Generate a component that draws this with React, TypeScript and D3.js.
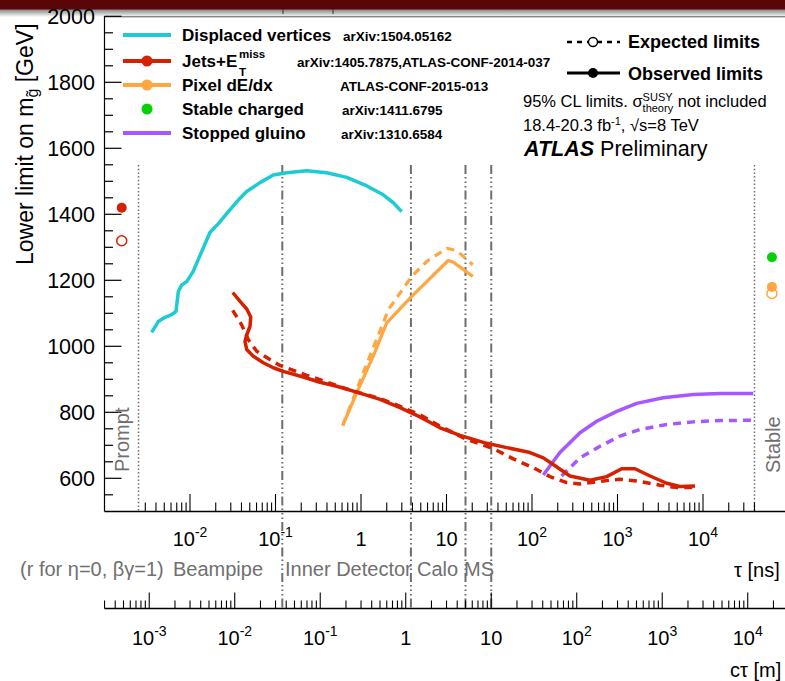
import React from "react";
import * as d3 from "d3";

const W = 785;
const H = 681;
const FONT = "'Liberation Sans', Arial, Helvetica, sans-serif";

// Displaced vertices, observed limit: lifetime tau [ns] and gluino mass [GeV]
const dvTau = [0.00356, 0.00426, 0.0051, 0.0061, 0.00686, 0.0073, 0.008, 0.00915, 0.0109, 0.0137, 0.0171, 0.0214, 0.0281, 0.0352, 0.046, 0.0659, 0.0942, 0.135, 0.232, 0.397, 0.681, 1.17, 1.82, 2.39, 2.99];
const dvMass = [1042, 1075, 1088, 1096, 1106, 1166, 1186, 1196, 1227, 1287, 1345, 1371, 1408, 1438, 1469, 1496, 1519, 1526, 1532, 1526, 1512, 1486, 1459, 1435, 1408];

// Jets + ETmiss
const jetsObsTau = [0.0316, 0.0385, 0.0461, 0.0513, 0.0503, 0.0461, 0.044, 0.0461, 0.055, 0.072, 0.0942, 0.123, 0.211, 0.331, 0.52, 0.891, 1.67, 2.86, 4.9, 8.4, 14.4, 29.5, 50.6, 94.8, 135.6, 177, 278, 477, 748, 1120, 1602, 2400, 3760, 5380, 8060];
const jetsObsMass = [1163, 1136, 1113, 1089, 1060, 1035, 1015, 990, 970, 950, 935, 924, 907, 891, 879, 861, 839, 814, 786, 753, 730, 706, 693, 678, 662, 642, 607, 594, 605, 629, 629, 607, 585, 575, 577];
const jetsExpTau = [0.0316, 0.0402, 0.0481, 0.0603, 0.0862, 0.113, 0.162, 0.232, 0.331, 0.52, 0.813, 1.67, 2.86, 4.9, 8.4, 17.2, 35.3, 60.4, 103.6, 162.5, 254.6, 364, 682, 1070, 1678, 3140, 4920, 7700];
const jetsExpMass = [1109, 1065, 1020, 985, 960, 942, 927, 912, 899, 881, 864, 842, 818, 793, 758, 718, 690, 659, 632, 605, 587, 583, 592, 597, 592, 579, 572, 572];

// Pixel dE/dx
const pixObsTau = [0.611, 0.891, 1.39, 2.0, 3.92, 10.5, 12.0, 20.3];
const pixObsMass = [760, 859, 970, 1071, 1151, 1260, 1255, 1212];
const pixExpTau = [0.611, 1.06, 1.82, 2.09, 2.86, 3.92, 5.87, 10.05, 13.2, 20.3];
const pixExpMass = [760, 919, 1071, 1111, 1161, 1212, 1257, 1297, 1290, 1247];

// Stopped gluino
const stopObsTau = [135.6, 212, 364, 571, 979, 1678, 3433, 7700, 15800, 38700];
const stopObsMass = [610, 678, 738, 773, 803, 827, 844, 854, 857, 857];
const stopExpTau = [222, 364, 624, 1070, 1833, 3760, 7700, 15800, 38700];
const stopExpMass = [607, 662, 697, 728, 748, 763, 771, 775, 776];

// Prompt (left) and stable (right) single-point limits
const promptTau = 1.59e-3;
const stableTau = 6.4e4;
const promptJetsObs = 1420;
const promptJetsExp = 1320;
const stableChargedObs = 1270;
const stablePixObs = 1180;
const stablePixExp = 1160;

// Axis ranges and ticks
const tauAxisMin = 2.5e-3;
const tauAxisMax = 4e4;
const tauLabelExps = [-2, -1, 0, 1, 2, 3, 4];
const ctLabelExps = [-3, -2, -1, 0, 1, 2, 3, 4];
const ctTickMin = 3e-4;
const massMajor = [600, 800, 1000, 1200, 1400, 1600, 1800, 2000];
const C_M_PER_NS = 0.2998;

// Detector boundaries in c*tau [m]
const boundariesCt = [0.036, 1.15, 5, 10];
const regionNames = ["(r for \u03B7=0, \u03B2\u03B3=1)", "Beampipe", "Inner Detector", "Calo", "MS"];
const regionX = [20, 173, 285, 417, 464];

const COL = {
  cyan: "#1ccbd3",
  red: "#d62000",
  orange: "#ffa640",
  green: "#06d006",
  purple: "#a657ff",
  grid: "#6e6e6e",
  label: "#707070",
};

const x = d3.scaleLog().domain([1e-2, 1e4]).range([190, 703]);
const y = d3.scaleLinear().domain([500, 2000]).range([511.3, 16.3]);
const xct = (ct: number) => x(ct / C_M_PER_NS);

const line = d3
  .line<[number, number]>()
  .x((d) => x(d[0]))
  .y((d) => y(d[1]))
  .curve(d3.curveLinear);

const zip = (a: number[], b: number[]) => a.map((v, i) => [v, b[i]] as [number, number]);

function logTicks(min: number, max: number) {
  const out: { v: number; major: boolean }[] = [];
  for (let e = -5; e <= 6; e++) {
    for (let k = 1; k <= 9; k++) {
      const v = k * Math.pow(10, e);
      if (v >= min * 0.999 && v <= max * 1.001) out.push({ v, major: k === 1 });
    }
  }
  return out;
}

function PowLabel({ px, py, e, size }: { px: number; py: number; e: number; size: number }) {
  if (e === 0)
    return (
      <text x={px} y={py} textAnchor="middle" fontSize={size}>
        1
      </text>
    );
  if (e === 1)
    return (
      <text x={px} y={py} textAnchor="middle" fontSize={size}>
        10
      </text>
    );
  return (
    <text x={px} y={py} textAnchor="middle" fontSize={size}>
      10
      <tspan dy={-size * 0.45} fontSize={size * 0.7}>
        {String(e)}
      </tspan>
    </text>
  );
}

export default function App() {
  const axisY = 511.5;
  const axis2Y = 608.5;
  const left = 104.5;
  const tauTicks = logTicks(tauAxisMin, tauAxisMax);
  const ctTicks = logTicks(ctTickMin, 1e5).filter((t) => xct(t.v) <= W);
  const massMinor = d3.range(550, 2001, 50);

  return (
    <svg
      width={W}
      height={H}
      viewBox={`0 0 ${W} ${H}`}
      style={{ position: "absolute", left: 0, top: 0, background: "#fff" }}
      fontFamily={FONT}
    >
      <defs>
        <linearGradient id="topfade" x1="0" y1="0" x2="0" y2="1">
          <stop offset="0" stopColor="#7d7d7d" />
          <stop offset="1" stopColor="#ffffff" />
        </linearGradient>
      </defs>
      <rect x={0} y={0} width={W} height={H} fill="#fff" />
      <rect x={0} y={9} width={W} height={8} fill="url(#topfade)" />
      <rect x={0} y={0} width={W} height={9.5} fill="#5a0609" />
      <line x1={283} x2={283} y1={9} y2={14} stroke="#333" strokeWidth={1} />
      <line x1={333} x2={333} y1={9} y2={14} stroke="#333" strokeWidth={1} />

      {/* frame */}
      <line x1={left} x2={W} y1={16.8} y2={16.8} stroke="#555" strokeWidth={1} />
      <line x1={left} x2={left} y1={16.3} y2={axisY} stroke="#000" strokeWidth={1.2} />

      {/* y axis ticks */}
      {massMinor.map((m) => {
        const major = m % 200 === 0;
        return <line key={"ym" + m} x1={left} x2={left + (major ? 17 : 8.5)} y1={y(m)} y2={y(m)} stroke="#000" strokeWidth={1.2} />;
      })}
      {massMajor.map((m) => (
        <text key={"yl" + m} x={95} y={y(m) + 7.7} textAnchor="end" fontSize={21.5}>
          {m}
        </text>
      ))}
      <text transform="translate(33,265) rotate(-90)" fontSize={23}>
        Lower limit on m
        <tspan dy={5} fontSize={16}>
          {"g\u0303"}
        </tspan>
        <tspan dy={-5}> [GeV]</tspan>
      </text>

      {/* prompt / stable bounds */}
      {[tauAxisMin, tauAxisMax].map((t) => (
        <line key={"pb" + t} x1={x(t)} x2={x(t)} y1={165} y2={axisY} stroke={COL.grid} strokeWidth={1.5} strokeDasharray="1.5,2.2" />
      ))}
      {/* detector boundaries */}
      {boundariesCt.map((c) => (
        <line
          key={"bd" + c}
          x1={xct(c)}
          x2={xct(c)}
          y1={165}
          y2={axis2Y}
          stroke={COL.grid}
          strokeWidth={2}
          strokeDasharray="9,3,1.5,3,1.5,3,1.5,3"
        />
      ))}
      <text transform={`translate(129,472) rotate(-90)`} fontSize={20} fill={COL.label}>
        Prompt
      </text>
      <text transform={`translate(780,473) rotate(-90)`} fontSize={20} fill={COL.label}>
        Stable
      </text>

      {/* main tau axis */}
      <line x1={left} x2={W} y1={axisY} y2={axisY} stroke="#000" strokeWidth={1.3} />
      {tauTicks.map((t) => (
        <line key={"tt" + t.v} x1={x(t.v)} x2={x(t.v)} y1={axisY} y2={axisY - (t.major ? 17.5 : 9)} stroke="#000" strokeWidth={1.1} />
      ))}
      {tauLabelExps.map((e) => (
        <PowLabel key={"tl" + e} px={x(Math.pow(10, e))} py={546} e={e} size={20} />
      ))}
      <text x={734} y={577} fontSize={20}>
        {"\u03C4 [ns]"}
      </text>

      {/* region labels */}
      {regionNames.map((n, i) => (
        <text key={"rg" + i} x={regionX[i]} y={576} fontSize={20} fill={COL.label}>
          {n}
        </text>
      ))}

      {/* c tau axis */}
      <line x1={left} x2={W} y1={axis2Y} y2={axis2Y} stroke="#000" strokeWidth={1.3} />
      {ctTicks.map((t) => (
        <line key={"ct" + t.v} x1={xct(t.v)} x2={xct(t.v)} y1={axis2Y} y2={axis2Y - (t.major ? 16 : 8)} stroke="#000" strokeWidth={1.1} />
      ))}
      {ctLabelExps.map((e) => (
        <PowLabel key={"cl" + e} px={xct(Math.pow(10, e))} py={645} e={e} size={20} />
      ))}
      <text x={730} y={677} fontSize={20}>
        {"c\u03C4 [m]"}
      </text>

      {/* limit curves */}
      <g fill="none" strokeLinejoin="round" strokeLinecap="butt">
        <path d={line(zip(dvTau, dvMass)) || ""} stroke={COL.cyan} strokeWidth={3.5} />
        <path d={line(zip(pixExpTau, pixExpMass)) || ""} stroke={COL.orange} strokeWidth={3.2} strokeDasharray="8,6" />
        <path d={line(zip(pixObsTau, pixObsMass)) || ""} stroke={COL.orange} strokeWidth={3.2} />
        <path d={line(zip(stopExpTau, stopExpMass)) || ""} stroke={COL.purple} strokeWidth={3.5} strokeDasharray="8,6" />
        <path d={line(zip(stopObsTau, stopObsMass)) || ""} stroke={COL.purple} strokeWidth={3.5} />
        <path d={line(zip(jetsExpTau, jetsExpMass)) || ""} stroke={COL.red} strokeWidth={3.5} strokeDasharray="8,6" />
        <path d={line(zip(jetsObsTau, jetsObsMass)) || ""} stroke={COL.red} strokeWidth={3.5} />
      </g>

      {/* prompt and stable points */}
      <circle cx={x(promptTau)} cy={y(promptJetsObs)} r={5} fill={COL.red} />
      <circle cx={x(promptTau)} cy={y(promptJetsExp)} r={5} fill="#fff" stroke={COL.red} strokeWidth={1.5} />
      <circle cx={x(stableTau)} cy={y(stableChargedObs)} r={5} fill={COL.green} />
      <circle cx={x(stableTau)} cy={y(stablePixExp)} r={5} fill="#fff" stroke={COL.orange} strokeWidth={1.5} />
      <circle cx={x(stableTau)} cy={y(stablePixObs)} r={5} fill={COL.orange} />

      {/* legend: analyses */}
      <g fontWeight="bold">
        <line x1={123} x2={171} y1={35} y2={35} stroke={COL.cyan} strokeWidth={4} />
        <text x={182} y={41} fontSize={17}>
          Displaced vertices
        </text>
        <text x={343} y={40.5} fontSize={13.5}>
          arXiv:1504.05162
        </text>

        <line x1={123} x2={171} y1={61} y2={61} stroke={COL.red} strokeWidth={4} />
        <circle cx={147} cy={61} r={5.5} fill={COL.red} />
        <text x={182} y={67} fontSize={17}>
          Jets+E
        </text>
        <text x={239} y={58} fontSize={11.5}>
          miss
        </text>
        <text x={239} y={76} fontSize={11.5}>
          T
        </text>
        <text x={297} y={66.5} fontSize={13.5}>
          arXiv:1405.7875,ATLAS-CONF-2014-037
        </text>

        <line x1={123} x2={171} y1={85} y2={85} stroke={COL.orange} strokeWidth={4} />
        <circle cx={147} cy={85} r={5.5} fill={COL.orange} />
        <text x={182} y={91} fontSize={17}>
          Pixel dE/dx
        </text>
        <text x={340} y={90.5} fontSize={13.5}>
          ATLAS-CONF-2015-013
        </text>

        <circle cx={147} cy={109} r={5.5} fill={COL.green} />
        <text x={182} y={115} fontSize={17}>
          Stable charged
        </text>
        <text x={342} y={114.5} fontSize={13.5}>
          arXiv:1411.6795
        </text>

        <line x1={123} x2={171} y1={133} y2={133} stroke={COL.purple} strokeWidth={4} />
        <text x={182} y={139} fontSize={17}>
          Stopped gluino
        </text>
        <text x={341} y={138.5} fontSize={13.5}>
          arXiv:1310.6584
        </text>
      </g>

      {/* legend: expected / observed */}
      <line x1={567} x2={620} y1={42} y2={42} stroke="#000" strokeWidth={2.5} strokeDasharray="5,5" />
      <circle cx={593} cy={42} r={4.5} fill="#fff" stroke="#000" strokeWidth={1.4} />
      <text x={628} y={47.5} fontSize={18} fontWeight="bold">
        Expected limits
      </text>
      <line x1={567} x2={620} y1={73} y2={73} stroke="#000" strokeWidth={2.8} />
      <circle cx={593} cy={73} r={5} fill="#000" />
      <text x={628} y={79.5} fontSize={18} fontWeight="bold">
        Observed limits
      </text>

      <text x={523} y={107} fontSize={16.5}>
        {"95% CL limits. \u03C3"}
        <tspan dy={-6} fontSize={11}>
          SUSY
        </tspan>
        <tspan dx={-30} dy={11} fontSize={11}>
          theory
        </tspan>
        <tspan dy={-5}> not included</tspan>
      </text>
      <text x={523} y={131} fontSize={16.5}>
        18.4-20.3 fb
        <tspan dy={-6} fontSize={11}>
          -1
        </tspan>
        <tspan dy={6}>{", \u221As=8 TeV"}</tspan>
      </text>
      <text x={524} y={156} fontSize={21.5}>
        <tspan fontWeight="bold" fontStyle="italic">
          ATLAS
        </tspan>{" "}
        Preliminary
      </text>
    </svg>
  );
}
